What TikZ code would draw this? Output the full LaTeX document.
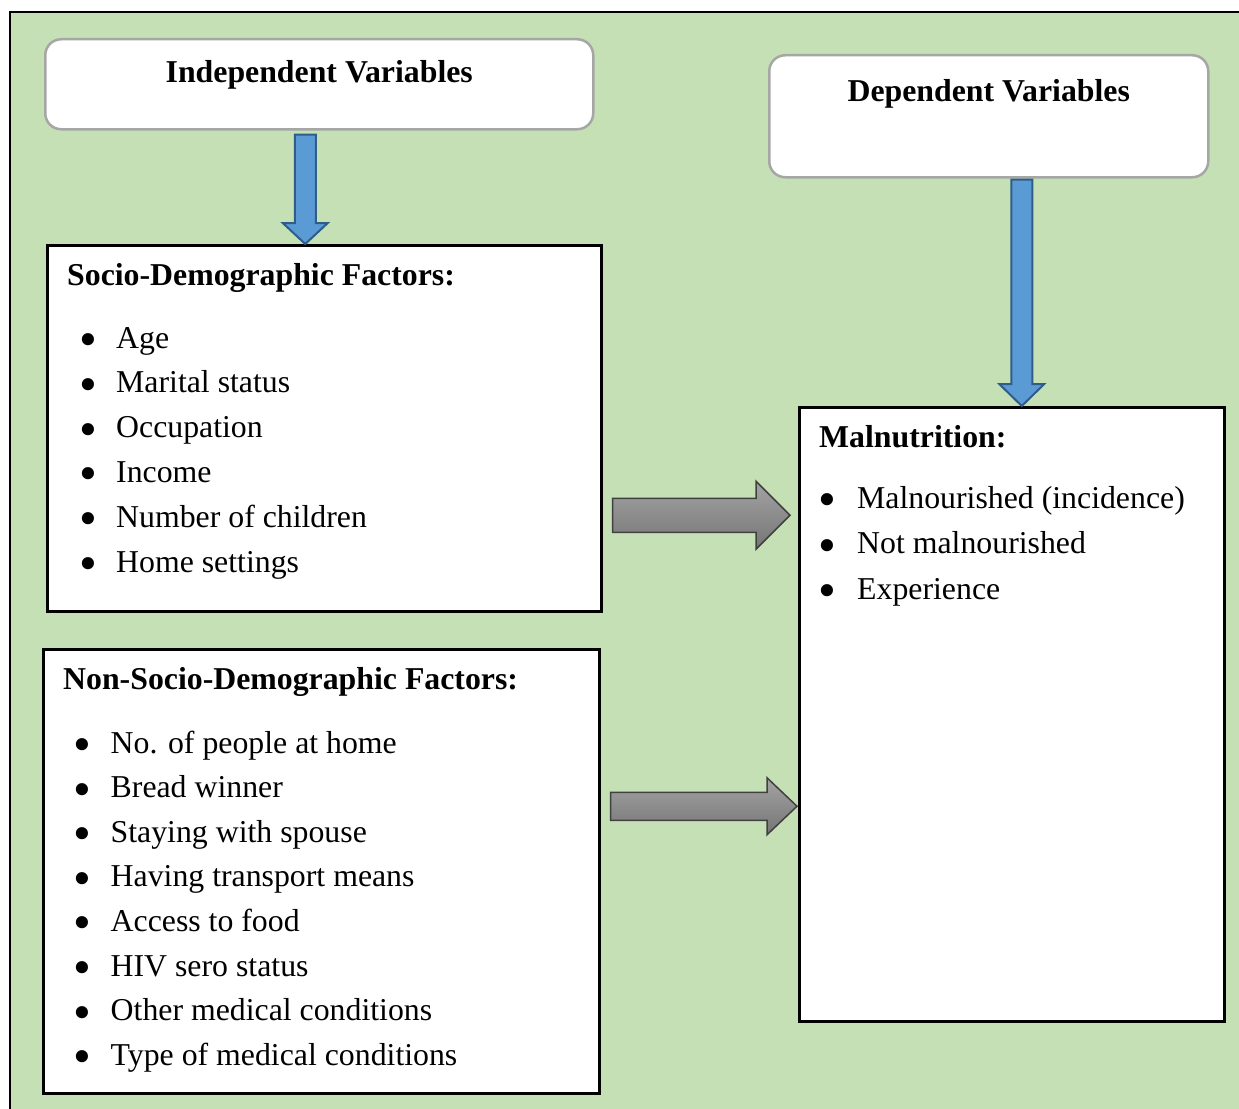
\documentclass[tikz,border=0pt]{standalone}
\usepackage{fontspec}
\setmainfont{Liberation Serif}
\usetikzlibrary{calc,positioning}

\definecolor{bggreen}{HTML}{C5E0B4}
\definecolor{arrowblue}{HTML}{5B9BD5}
\definecolor{edgeblue}{HTML}{2F5D8A}
\definecolor{boxgray}{HTML}{A6A6A6}

\tikzset{
  varbox/.style={draw=boxgray, line width=2.5pt, fill=white, rounded corners=16pt,
    inner sep=0pt, anchor=north west},
  factorbox/.style={draw=black, line width=2.5pt, fill=white, inner sep=0pt, anchor=north west},
  heading/.style={font=\bfseries\fontsize{31.8}{38}\selectfont, inner sep=0pt},
  item/.style={font=\fontsize{31.8}{38}\selectfont, inner sep=0pt, anchor=base west},
  bluearrow/.style={draw=edgeblue, line width=2pt, fill=arrowblue},
  grayarrow/.style={draw=black!75, line width=1.5pt, top color=black!36, bottom color=black!54}
}

% block arrows: style, start, tip, half shaft, half head, head length
\newcommand{\blockdown}[6]{%
  \path[#1] let \p1=(#2), \p2=(#3) in
    (\x1-#4,\y1) -- (\x1+#4,\y1) -- (\x1+#4,\y2+#6) -- (\x1+#5,\y2+#6)
    -- (\x1,\y2) -- (\x1-#5,\y2+#6) -- (\x1-#4,\y2+#6) -- cycle;}
\newcommand{\blockright}[6]{%
  \path[#1] let \p1=(#2), \p2=(#3) in
    (\x1,\y1+#4) -- (\x2-#6,\y1+#4) -- (\x2-#6,\y1+#5) -- (\x2,\y1)
    -- (\x2-#6,\y1-#5) -- (\x2-#6,\y1-#4) -- (\x1,\y1-#4) -- cycle;}
\newcommand{\bigbul}{\hspace{-3pt}\raisebox{-8.5pt}[0pt][0pt]{\scalebox{1.6}{\textbullet}}}
\newcommand{\itm}[2][34pt]{\makebox[#1][l]{\bigbul}#2}

\begin{document}
\begin{tikzpicture}[x=1pt, y=-1pt]
    % 1. Page and green frame
    \useasboundingbox (0,0) rectangle (1239,1108);
    \clip (0,0) rectangle (1239,1108);
    \draw[line width=2.5pt, fill=bggreen] (10,12) rectangle (1255,1125);

    % 2. Variable headers
    \node[varbox, minimum width=548pt, minimum height=90pt] (indep) at (44,38) {};
    \node[heading, anchor=base] (indeptxt) at ([yshift=-44pt]indep.north) {Independent Variables};
    \node[varbox, minimum width=439pt, minimum height=122pt] (dep) at (768,54) {};
    \node[heading, anchor=base] (deptxt) at ([yshift=-47pt]dep.north) {Dependent Variables};

    % 3. Socio-demographic factors
    \node[factorbox, minimum width=554pt, minimum height=366pt] (socio) at (46,244) {};
    \node[heading, anchor=base west] (sociotxt) at ([shift={(21,41)}]socio.north west)
        {Socio-Demographic Factors:};
    \foreach \txt [count=\i] in {Age, Marital status, Occupation, Income,
        Number of children, Home settings}
      \node[item] (socio-\i) at ([shift={(36,{104+44.8*(\i-1)})}]socio.north west) {\itm{\txt}};

    % 4. Non-socio-demographic factors
    \node[factorbox, minimum width=556pt, minimum height=444pt] (nonsocio) at (42,648) {};
    \node[heading, anchor=base west] (nonsociotxt) at ([shift={(21,41)}]nonsocio.north west)
        {Non-Socio-Demographic Factors:};
    \foreach \txt [count=\i] in {No. of people at home, Bread winner, Staying with spouse,
        Having transport means, Access to food, HIV sero status,
        Other medical conditions, Type of medical conditions}
      \node[item] (nonsocio-\i) at ([shift={(34.5,{105+44.6*(\i-1)})}]nonsocio.north west) {\itm{\txt}};

    % 5. Malnutrition
    \node[factorbox, minimum width=425pt, minimum height=614pt] (malnut) at (798,406) {};
    \node[heading, anchor=base west] (malnuttxt) at ([shift={(21,41)}]malnut.north west)
        {Malnutrition:};
    \foreach \txt [count=\i] in {Malnourished (incidence), Not malnourished, Experience}
      \node[item] (malnut-\i) at ([shift={(23.5,{102+45.5*(\i-1)})}]malnut.north west)
        {\itm[35.5pt]{\txt}};

    % 6. Blue arrows
    \coordinate (d1) at ([xshift=-14pt,yshift=-4pt]indep.south);
    \blockdown{bluearrow}{d1}{d1 |- socio.north}{10.5pt}{22.5pt}{21pt}
    \coordinate (d2) at ([xshift=33pt,yshift=-1pt]dep.south);
    \blockdown{bluearrow}{d2}{d2 |- malnut.north}{10.5pt}{22.5pt}{22pt}

    % 7. Grey arrows
    \coordinate (r1) at ([xshift=10pt,yshift=-87pt]socio.east);
    \path (r1 -| malnut.west) ++(-8,0) coordinate (t1);
    \blockright{grayarrow}{r1}{t1}{17pt}{34pt}{34pt}
    \coordinate (r2) at ([xshift=10pt,yshift=65pt]nonsocio.east);
    \path (r2 -| malnut.west) ++(-1,0) coordinate (t2);
    \blockright{grayarrow}{r2}{t2}{14pt}{28.5pt}{30pt}
\end{tikzpicture}
\end{document}
